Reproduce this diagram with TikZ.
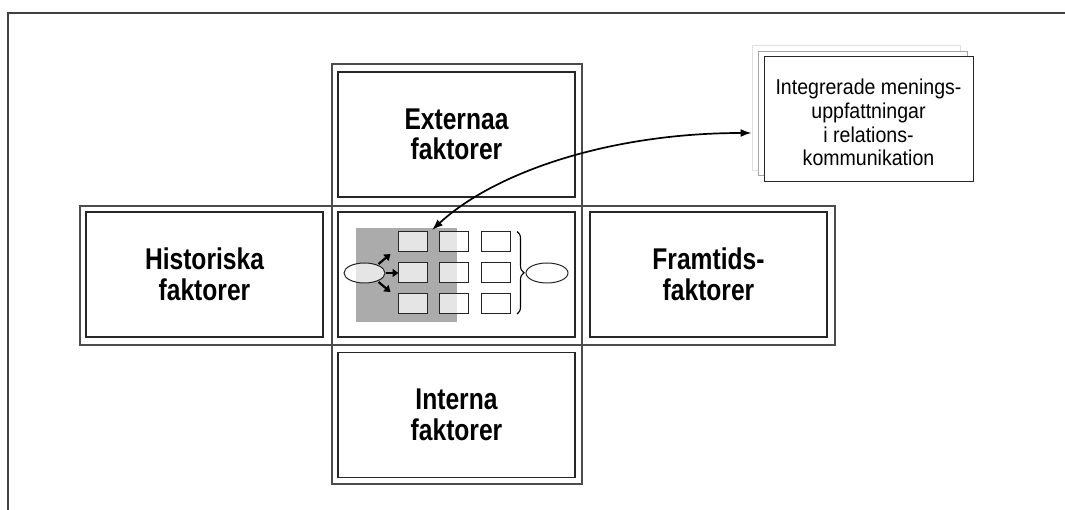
\documentclass[tikz,border=0pt]{standalone}
\usepackage{fontspec}
\setmainfont{Liberation Sans}
\newfontfamily\headfont{Liberation Sans}[FakeStretch=0.82]
\newfontfamily\notefont{Liberation Sans}[FakeStretch=0.91]
\usetikzlibrary{arrows.meta,decorations.pathreplacing,shapes.geometric,calc}

\tikzset{
  frameline/.style={draw=black!75, line width=1.5pt},
  cell/.style={draw=black!70, line width=1.2pt, inner sep=0pt},
  panel/.style={draw=black!85, line width=1.1pt, minimum width=237pt, minimum height=125pt,
    inner sep=0pt, align=center, font=\headfont\bfseries\fontsize{30pt}{30.5pt}\selectfont},
  shade/.style={fill=black!33, draw=none},
  unit/.style={draw=black!85, line width=1pt, fill=white, fill opacity=0.7,
    minimum width=29pt, minimum height=20pt, inner sep=0pt},
  oval/.style={ellipse, draw=black!85, line width=1pt, fill=white, fill opacity=0.7,
    minimum width=41pt, minimum height=20pt, inner sep=0pt},
  fat/.style={line width=2.2pt, -{Triangle[length=6pt,width=8pt]}},
  link/.style={line width=1.7pt, {Latex[length=11pt,width=8pt]}-{Latex[length=11pt,width=8pt]}},
  sheet/.style={fill=white, inner sep=0pt, line width=1pt},
  stacktext/.style={align=center, font=\notefont\fontsize{21.5pt}{23.7pt}\selectfont, inner sep=0pt}
}

\begin{document}
\begin{tikzpicture}[x=1pt,y=-1pt]
\useasboundingbox (0,0) rectangle (1065,510);
\fill[white] (0,0) rectangle (1065,510);

% page frame (top and left edges)
\draw[frameline] (1065,13) -- (8,13) -- (8,510);

% outer cells of the cross
\node[cell, minimum width=250pt, minimum height=142pt] (oTop) at (457,135) {};
\node[cell, minimum width=252pt, minimum height=139pt] (oLeft) at (206,275.5) {};
\node[cell, minimum width=250pt, minimum height=139pt] (oMid) at (457,275.5) {};
\node[cell, minimum width=253pt, minimum height=139pt] (oRight) at (708.5,275.5) {};
\node[cell, minimum width=250pt, minimum height=139pt] (oBot) at (457,414.5) {};

% inner panels
\node[panel] (ext) at (456.5,134.5) {Externaa\\faktorer};
\node[panel] (hist) at (204.5,274.5) {Historiska\\faktorer};
\node[panel] (mid) at (456.5,274.5) {};
\node[panel] (fut) at (708.5,274.5) {Framtids-\\faktorer};
\node[panel] (int) at (456.5,415) {Interna\\faktorer};

% shaded field in the centre panel
\fill[shade] (356,228) rectangle (457,322);

% grid of units
\foreach \c/\x in {1/412.5,2/454,3/496}{
  \foreach \r/\y in {1/242,2/273,3/303.5}{
    \node[unit] (u\r\c) at (\x,\y) {};
  }
}

% ovals
\node[oval] (lel) at (364.5,273) {};
\node[oval, minimum width=42pt] (rel) at (547,273) {};

% arrows from the left oval
\draw[fat] ($(lel.center)+(14,-9)$) -- ++(12,-10);
\draw[fat] (lel.east) -- ++(13,0);
\draw[fat] ($(lel.center)+(14,9)$) -- ++(12,10);

% brace gathering the units
\draw[line width=1.1pt, decorate, decoration={brace, amplitude=7pt}]
  ($(u13.north east)+(6,0)$) -- ($(u33.south east)+(6,0)$);

% stacked sheets
\node[sheet, draw=black!12, minimum width=208pt, minimum height=125pt] (sheetC) at (856,108.5) {};
\node[sheet, draw=black!35, minimum width=209pt, minimum height=124pt] (sheetB) at (862.5,114) {};
\node[sheet, draw=black!85, minimum width=209pt, minimum height=125pt] (sheetA) at (868.5,119.5) {};
\node[stacktext] (sheetText) at ($(sheetA.center)+(0,3)$)
  {Integrerade menings-\\uppfattningar\\i relations-\\kommunikation};

% curved link between the centre panel and the sheets
\coordinate (linkA) at (432,230);
\coordinate (linkB) at (sheetC.west |- 0,133);
\draw[link] (linkA) .. controls (495,172) and (610,133) .. (linkB);
\end{tikzpicture}
\end{document}
